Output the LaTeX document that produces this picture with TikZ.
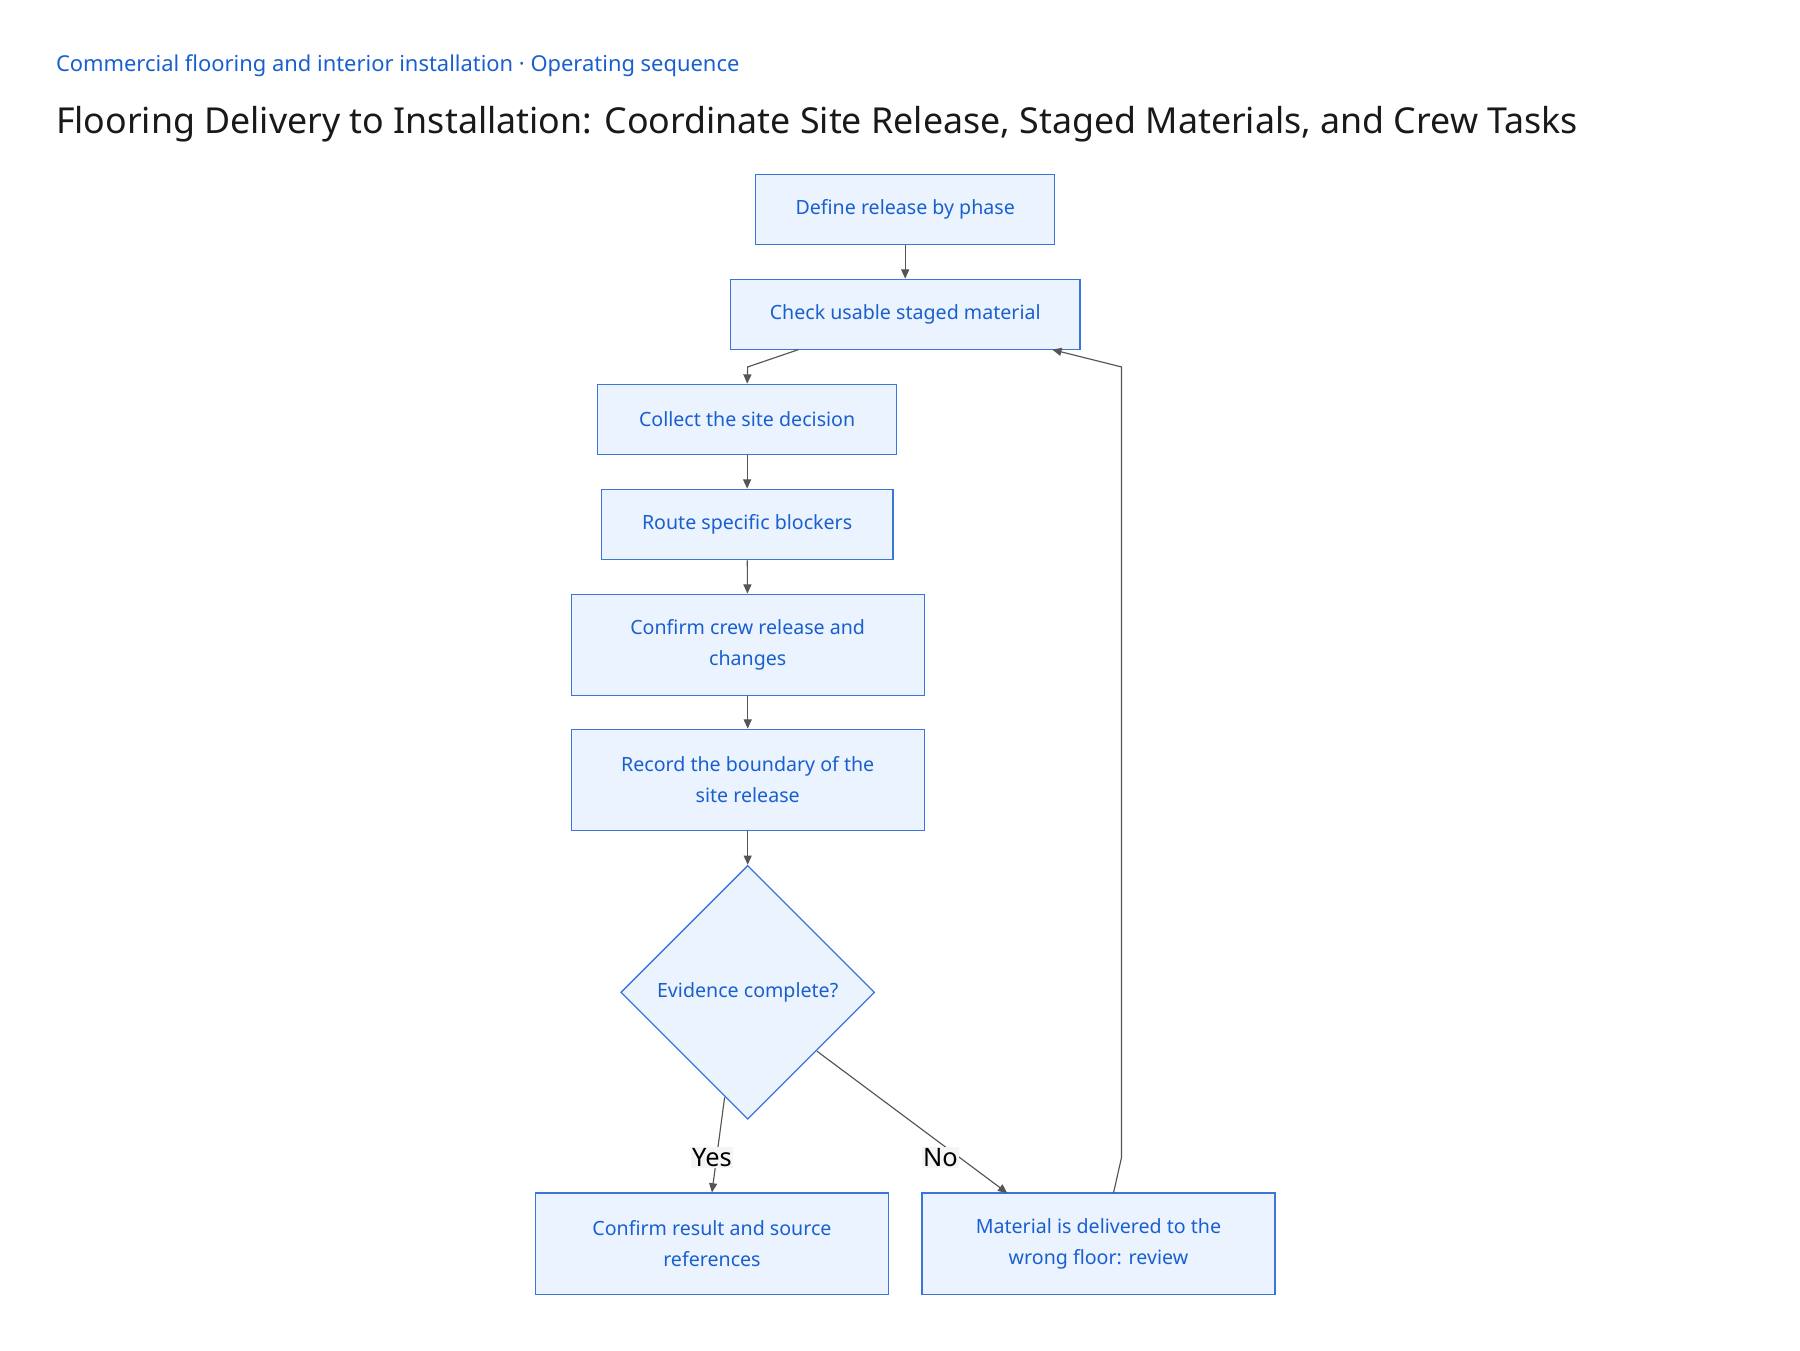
\documentclass[tikz,border=0pt]{standalone}
\usepackage{fontspec}
\setmainfont{Noto Sans}
\usetikzlibrary{shapes.geometric,arrows.meta}
\definecolor{bfill}{HTML}{EBF3FE}
\definecolor{bline}{HTML}{3A76DA}
\definecolor{btext}{HTML}{1A5FD0}
\definecolor{aline}{HTML}{555555}
\begin{document}
\begin{tikzpicture}[x=1pt,y=-1pt,
  box/.style={draw=bline,fill=bfill,line width=1.1pt,text=btext,font=\fontsize{17}{27}\selectfont,align=center,inner sep=0pt},
  dia/.style={diamond,draw=bline,fill=bfill,line width=1.1pt,text=btext,font=\fontsize{17}{27}\selectfont,inner sep=0pt,minimum width=220pt,minimum height=220pt},
  conn/.style={draw=aline,line width=1pt,-{Triangle[length=8pt,width=7pt]}},
  lbl/.style={fill=gray!8,inner sep=1pt,font=\fontsize{22}{26}\selectfont,text=black}]
\useasboundingbox (0,0) rectangle (1560,1170);
\node[anchor=west,text=btext,font=\fontsize{19}{22}\selectfont] (sub) at (45,57) {Commercial flooring and interior installation · Operating sequence};
\node[anchor=west,text=black!90,font=\fontsize{31}{36}\selectfont] (ttl) at (45,108) {Flooring Delivery to Installation: Coordinate Site Release, Staged Materials, and Crew Tasks};
\node[box,minimum width=259pt,minimum height=61pt] (A) at (784.5,181.5) {Define release by phase};
\node[box,minimum width=303pt,minimum height=61pt] (B) at (784.5,272.5) {Check usable staged material};
\node[box,minimum width=259pt,minimum height=61pt] (C) at (647.5,363.5) {Collect the site decision};
\node[box,minimum width=253pt,minimum height=61pt] (D) at (647.5,454.5) {Route specific blockers};
\node[box,minimum width=306pt,minimum height=88pt] (E) at (648,559) {Confirm crew release and\\changes};
\node[box,minimum width=306pt,minimum height=88pt] (F) at (648,676) {Record the boundary of the\\site release};
\node[dia] (Q) at (648,860) {Evidence complete?};
\node[box,minimum width=306pt,minimum height=88pt] (G) at (617,1078) {Confirm result and source\\references};
\node[box,minimum width=306pt,minimum height=88pt] (H) at (952,1078) {Material is delivered to the\\wrong floor: review};
\coordinate (b1) at (692,303);
\coordinate (b2) at (648,318);
\coordinate (h1) at (965,1034);
\coordinate (h2) at (972,1003);
\coordinate (h3) at (972,318);
\coordinate (h4) at (912,303);
\coordinate (q1) at (628,951);
\coordinate (q2) at (708,911);
\draw[conn] (A) -- (B);
\draw[conn] (b1) -- (b2) -- (C.north);
\draw[conn] (C) -- (D);
\draw[conn] (D) -- (E);
\draw[conn] (E) -- (F);
\draw[conn] (F) -- (Q);
\draw[conn] (q1) -- (G.north);
\draw[conn] (q2) -- (873,1034);
\draw[conn] (h1) -- (h2) -- (h3) -- (h4);
\node[lbl] (yes) at (617,1003) {Yes};
\node[lbl] (no) at (815,1003) {No};
\end{tikzpicture}
\end{document}
